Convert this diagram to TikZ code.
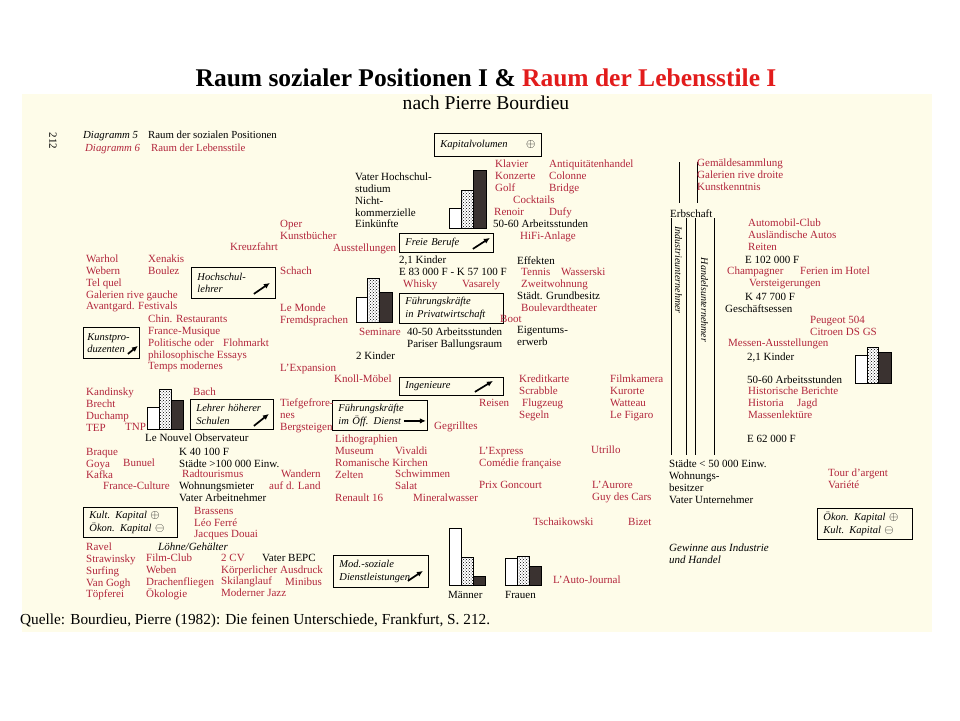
\documentclass[tikz,border=0pt]{standalone}
\usepackage{fontspec}
\setmainfont{Liberation Serif}
\usepackage{xcolor}
\usetikzlibrary{arrows.meta,patterns}
\definecolor{lsred}{RGB}{178,38,60}
\definecolor{titlered}{RGB}{226,28,28}
\definecolor{paper}{RGB}{254,252,233}
\definecolor{barbrown}{RGB}{58,50,48}

\begin{document}
\begin{tikzpicture}[
  x=1pt, y=-1pt,
  lstil/.style={
    anchor=north west,
    yshift=4.2pt,
    inner sep=0pt,
    align=left,
    text=lsred,
    font=\fontsize{11}{11.8}\selectfont
  },
  spos/.style={lstil, text=black},
  box/.style={
    draw,
    line width=0.9pt,
    anchor=north west,
    inner sep=0pt,
    inner xsep=6pt,
    align=left,
    font=\fontsize{10.5}{12.5}\selectfont\itshape
  },
  arr/.style={
    line width=1.7pt,
    -{Latex[length=6pt,width=5.5pt]}
  },
  wbar/.style={draw, line width=0.7pt, fill=white},
  dbar/.style={draw, line width=0.7pt, preaction={fill=white}, pattern=crosshatch dots},
  kbar/.style={draw, line width=0.7pt, fill=barbrown},
  vline/.style={line width=1pt}
]
\useasboundingbox (0,0) rectangle (960,720);
\fill[paper] (22,94) rectangle (932,632);

% title and source
\node[font=\fontsize{25.5}{28}\selectfont\bfseries] (title) at (486,78)
  {Raum sozialer Positionen I \& \textcolor{titlered}{Raum der Lebensstile I}};
\node[font=\fontsize{19.6}{22}\selectfont] (sub) at (486,103) {nach Pierre Bourdieu};
\node[anchor=west, inner sep=0pt, font=\fontsize{15.3}{17}\selectfont] (quelle) at (20,621)
  {Quelle: Bourdieu, Pierre (1982): Die feinen Unterschiede, Frankfurt, S. 212.};

% page head
\node[rotate=-90, font=\fontsize{11}{12}\selectfont] (seite) at (53,141) {212};
\node[spos, font=\fontsize{10.8}{12}\selectfont\itshape] (dia5) at (83,135) {Diagramm 5};
\node[spos, font=\fontsize{10.8}{12}\selectfont] (dia5t) at (148,135) {Raum der sozialen Positionen};
\node[lstil, font=\fontsize{10.8}{12}\selectfont\itshape] (dia6) at (85,148) {Diagramm 6};
\node[lstil, font=\fontsize{10.8}{12}\selectfont] (dia6t) at (151,148) {Raum der Lebensstile};

% boxes
\node[box, text width=95pt, minimum height=23pt] (kapvol) at (434,133)
  {Kapitalvolumen\hfill{\large$\oplus$}};
\node[box, text width=72pt, minimum height=31pt] (hochschul) at (191,267)
  {Hochschul-\\lehrer};
\node[box, inner xsep=4pt, text width=48pt, minimum height=31pt] (kunstpro) at (83,327)
  {Kunstpro-\\duzenten};
\node[box, text width=71pt, minimum height=30pt] (lehrer) at (190,399)
  {Lehrer höherer\\Schulen};
\node[box, text width=82pt, minimum height=19pt] (freie) at (399,233)
  {Freie Berufe};
\node[box, text width=92pt, minimum height=30pt] (privat) at (399,293)
  {Führungskräfte\\in Privatwirtschaft};
\node[box, text width=92pt, minimum height=18pt] (ingen) at (399,377)
  {Ingenieure};
\node[box, text width=83pt, minimum height=30pt] (oeff) at (332,400)
  {Führungskräfte\\im Öff. Dienst};
\node[box, text width=83pt, minimum height=32pt] (modsoz) at (333,555)
  {Mod.-soziale\\Dienstleistungen};
\node[box, text width=82pt, minimum height=30pt] (kultbox) at (83,507)
  {Kult. Kapital {\large$\oplus$}\\Ökon. Kapital {\large$\ominus$}};
\node[box, text width=83pt, minimum height=31pt] (oekonbox) at (817,508)
  {Ökon. Kapital {\large$\oplus$}\\Kult. Kapital {\large$\ominus$}};

\draw[arr] ([shift={(-22,-5)}]hochschul.south east) -- ++(16,-11);
\draw[arr] ([shift={(-12,-5)}]kunstpro.south east) -- ++(10,-8);
\draw[arr] ([shift={(-20,-4)}]lehrer.south east) -- ++(15,-12);
\draw[arr] ([shift={(-21,-4)}]freie.south east) -- ++(17,-11);
\draw[arr] ([shift={(-29,-4)}]ingen.south east) -- ++(18,-11);
\draw[arr] ([shift={(-24,-10)}]oeff.south east) -- ++(22,0);
\draw[arr] ([shift={(-21,-7)}]modsoz.south east) -- ++(15,-10);

% bar charts
\draw[wbar] (449,208) rectangle (461,228);
\draw[dbar] (461,190) rectangle (473,228);
\draw[kbar] (473,170) rectangle (486,228);

\draw[wbar] (356,297) rectangle (367,322);
\draw[dbar] (367,278) rectangle (379,322);
\draw[kbar] (379,292) rectangle (392,322);

\draw[wbar] (147,407) rectangle (159,429);
\draw[dbar] (159,389) rectangle (171,429);
\draw[kbar] (171,400) rectangle (183,429);

\draw[wbar] (855,355) rectangle (867,383);
\draw[dbar] (867,347) rectangle (878,383);
\draw[kbar] (878,352) rectangle (891,383);

\draw[wbar] (449,528) rectangle (461,585);
\draw[dbar] (461,557) rectangle (473,585);
\draw[kbar] (473,576) rectangle (485,585);
\draw[wbar] (505,558) rectangle (517,585);
\draw[dbar] (517,556) rectangle (529,585);
\draw[kbar] (529,566) rectangle (541,585);
\node[spos] (maenner) at (448,595) {Männer};
\node[spos] (frauen) at (505,595) {Frauen};

% entrepreneurs column
\draw[vline] (679,162) -- (679,203);
\draw[vline] (697,162) -- (697,203);
\foreach \x in {671,686,695,714}
  \draw[vline] (\x,218) -- (\x,455);
\node[rotate=-90, font=\fontsize{10}{12}\selectfont\itshape] (industrie) at (678.5,270)
  {Industrieunternehmer};
\node[rotate=-90, font=\fontsize{10}{12}\selectfont\itshape] (handel) at (704.5,300)
  {Handelsunternehmer};

% left part
\node[lstil] (warhol) at (86,259) {Warhol\\Webern\\Tel quel\\Galerien rive gauche\\Avantgard. Festivals};
\node[lstil] (xenakis) at (148,259) {Xenakis\\Boulez};
\node[lstil] (kreuz) at (230,247) {Kreuzfahrt};
\node[lstil] (chin) at (148,319) {Chin. Restaurants\\France-Musique\\Politische oder\\philosophische Essays\\Temps modernes};
\node[lstil] (flohmarkt) at (223,343) {Flohmarkt};
\node[lstil] (kandinsky) at (86,392) {Kandinsky\\Brecht\\Duchamp\\TEP};
\node[lstil] (tnp) at (125,427) {TNP};
\node[lstil] (bach) at (193,392) {Bach};
\node[spos] (nouvel) at (145,438) {Le Nouvel Observateur};
\node[lstil] (braque) at (86,452) {Braque\\Goya\\Kafka};
\node[lstil] (bunuel) at (123,463) {Bunuel};
\node[lstil] (francecult) at (103,486) {France-Culture};
\node[spos] (k40) at (179,452) {K 40 100 F\\Städte >100 000 Einw.};
\node[lstil] (radtour) at (182,474) {Radtourismus};
\node[spos] (wohnmiet) at (179,486) {Wohnungsmieter\\Vater Arbeitnehmer};
\node[lstil] (wandern) at (281,474) {Wandern};
\node[lstil] (aufland) at (269,486) {auf d. Land};
\node[lstil] (brassens) at (194,511) {Brassens\\Léo Ferré\\Jacques Douai};
\node[lstil] (ravel) at (86,547) {Ravel\\Strawinsky\\Surfing\\Van Gogh\\Töpferei};
\node[spos, font=\fontsize{11}{11.8}\selectfont\itshape] (loehne) at (158,547) {Löhne/Gehälter};
\node[lstil] (filmclub) at (146,558) {Film-Club\\Weben\\Drachenfliegen\\Ökologie};
\node[lstil] (zweicv) at (221,558) {2 CV\\Körperlicher Ausdruck\\Skilanglauf\\Moderner Jazz};
\node[spos] (bepc) at (262,558) {Vater BEPC};
\node[lstil] (minibus) at (285,582) {Minibus};

% middle part
\node[spos] (vater) at (355,177) {Vater Hochschul-\\studium\\Nicht-\\kommerzielle\\Einkünfte};
\node[lstil] (oper) at (280,224) {Oper\\Kunstbücher};
\node[lstil] (ausst) at (333,248) {Ausstellungen};
\node[lstil] (schach) at (280,271) {Schach};
\node[spos] (kinder) at (399,260) {2,1 Kinder\\E 83 000 F - K 57 100 F};
\node[lstil] (whisky) at (403,284) {Whisky};
\node[lstil] (vasarely) at (462,284) {Vasarely};
\node[lstil] (lemonde) at (280,308) {Le Monde\\Fremdsprachen};
\node[lstil] (seminare) at (359,332) {Seminare};
\node[spos] (arbeit4050) at (407,332) {40-50 Arbeitsstunden\\Pariser Ballungsraum};
\node[spos] (zweikinder) at (356,356) {2 Kinder};
\node[lstil] (expansion) at (280,368) {L'Expansion};
\node[lstil] (knoll) at (334,379) {Knoll-Möbel};
\node[lstil] (tiefgef) at (280,403) {Tiefgefrore-\\nes\\Bergsteigen};
\node[lstil] (gegrillt) at (434,426) {Gegrilltes};
\node[lstil] (litho) at (335,439) {Lithographien\\Museum\\Romanische Kirchen\\Zelten};
\node[lstil] (renault) at (335,498) {Renault 16};
\node[lstil] (vivaldi) at (395,451) {Vivaldi};
\node[lstil] (schwimmen) at (395,474) {Schwimmen\\Salat};
\node[lstil] (mineral) at (413,498) {Mineralwasser};
\node[lstil] (express) at (479,451) {L'Express\\Comédie française};
\node[lstil] (goncourt) at (479,485) {Prix Goncourt};
\node[lstil] (utrillo) at (591,450) {Utrillo};
\node[lstil] (aurore) at (592,485) {L'Aurore\\Guy des Cars};
\node[lstil] (tschai) at (533,522) {Tschaikowski};
\node[lstil] (bizet) at (628,522) {Bizet};
\node[lstil] (autojournal) at (553,580) {L'Auto-Journal};

% upper middle right
\node[lstil] (klavier) at (495,164) {Klavier\\Konzerte\\Golf};
\node[lstil] (cocktails) at (513,200) {Cocktails};
\node[lstil] (renoir) at (494,212) {Renoir};
\node[lstil] (antiq) at (549,164) {Antiquitätenhandel\\Colonne\\Bridge};
\node[lstil] (dufy) at (549,212) {Dufy};
\node[spos] (arbeit5060) at (493,224) {50-60 Arbeitsstunden};
\node[lstil] (hifi) at (520,236) {HiFi-Anlage};
\node[spos] (effekten) at (517,261) {Effekten};
\node[lstil] (tennis) at (521,272) {Tennis\\Zweitwohnung};
\node[lstil] (wasserski) at (561,272) {Wasserski};
\node[spos] (grundbesitz) at (517,296) {Städt. Grundbesitz};
\node[lstil] (boulevard) at (521,308) {Boulevardtheater};
\node[lstil] (boot) at (500,319) {Boot};
\node[spos] (eigentum) at (517,330) {Eigentums-\\erwerb};
\node[lstil] (kredit) at (519,379) {Kreditkarte\\Scrabble};
\node[lstil] (reisen) at (479,403) {Reisen};
\node[lstil] (flugzeug) at (522,403) {Flugzeug};
\node[lstil] (segeln) at (519,415) {Segeln};
\node[lstil] (filmkamera) at (610,379) {Filmkamera\\Kurorte\\Watteau\\Le Figaro};

% right part
\node[lstil] (gemaelde) at (697,163) {Gemäldesammlung\\Galerien rive droite\\Kunstkenntnis};
\node[spos] (erbschaft) at (670,214) {Erbschaft};
\node[lstil] (autoclub) at (748,223) {Automobil-Club\\Ausländische Autos\\Reiten};
\node[spos] (e102) at (745,260) {E 102 000 F};
\node[lstil] (champ) at (727,271) {Champagner};
\node[lstil] (ferien) at (800,271) {Ferien im Hotel};
\node[lstil] (verst) at (749,283) {Versteigerungen};
\node[spos] (k47) at (745,297) {K 47 700 F};
\node[spos] (geschaeft) at (725,309) {Geschäftsessen};
\node[lstil] (peugeot) at (810,320) {Peugeot 504\\Citroen DS GS};
\node[lstil] (messen) at (728,343) {Messen-Ausstellungen};
\node[spos] (kinderR) at (747,357) {2,1 Kinder};
\node[spos] (arbeitR) at (747,380) {50-60 Arbeitsstunden};
\node[lstil] (histber) at (748,391) {Historische Berichte\\Historia\\Massenlektüre};
\node[lstil] (jagd) at (797,403) {Jagd};
\node[spos] (e62) at (747,439) {E 62 000 F};
\node[spos] (staedte) at (669,464) {Städte < 50 000 Einw.\\Wohnungs-\\besitzer\\Vater Unternehmer};
\node[lstil] (tour) at (828,473) {Tour d'argent\\Variété};
\node[spos, font=\fontsize{11}{11.8}\selectfont\itshape] (gewinne) at (669,548)
  {Gewinne aus Industrie\\und Handel};
\end{tikzpicture}
\end{document}
